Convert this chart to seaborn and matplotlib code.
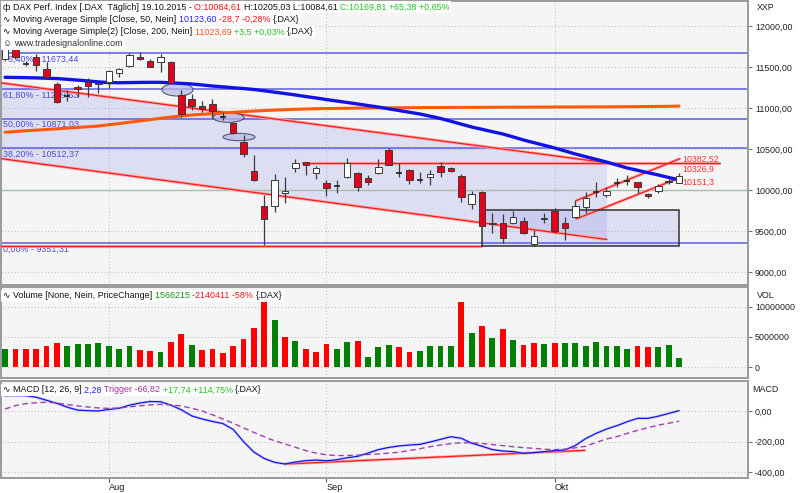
import numpy as np
import pandas as pd
import matplotlib
matplotlib.use("Agg")
import matplotlib.pyplot as plt
from matplotlib.patches import Polygon, Rectangle, Ellipse
from matplotlib.offsetbox import TextArea, HPacker, AnnotationBbox
from matplotlib.ticker import FuncFormatter, FixedLocator
import seaborn as sns

sns.set_style("white")
FONT = ["Liberation Sans", "DejaVu Sans"]
plt.rcParams["font.family"] = FONT

# ---- DAX daily candles, 20.07.2015 - 19.10.2015 ----
opens = [11600, 11768, 11540, 11626, 11475, 11293, 11145, 11252, 11320, 11288,
         11313, 11423, 11513, 11626, 11573, 11557, 11565, 11158, 11106, 11020,
         11045, 10894, 10821, 10589, 10235, 9805, 9805, 9960, 10265, 10338,
         10204, 10082, 10045, 10162, 10211, 10143, 10204, 10488, 10209, 10244,
         10130, 10162, 10293, 10272, 10175, 9829, 9980, 9585, 9594, 9594,
         9626, 9341, 9662, 9744, 9601, 9667, 9796, 9975, 9935, 10086,
         10110, 10101, 9947, 9991, 10113, 10084.61]
highs = [11745, 11790, 11577, 11660, 11565, 11317, 11219, 11280, 11365, 11325,
         11463, 11484, 11670, 11687, 11594, 11655, 11577, 11220, 11170, 11085,
         11110, 10950, 10833, 10670, 10427, 9939, 10190, 10162, 10374, 10345,
         10293, 10122, 10122, 10387, 10215, 10183, 10374, 10508, 10333, 10250,
         10223, 10244, 10338, 10280, 10191, 9991, 9985, 9716, 9707, 9748,
         9667, 9512, 9723, 9777, 9667, 9878, 9980, 10101, 10033, 10143,
         10183, 10101, 9960, 10073, 10130, 10205.03]
lows = [11580, 11600, 11512, 11455, 11370, 11057, 11085, 11130, 11130, 11180,
        11240, 11382, 11504, 11590, 11496, 11435, 11301, 10890, 10980, 10950,
        10880, 10850, 10683, 10399, 10110, 9329, 9735, 9845, 10223, 10183,
        10130, 9927, 9960, 10143, 9991, 10061, 10200, 10300, 10162, 10073,
        10082, 10061, 10162, 10225, 9857, 9768, 9555, 9479, 9350, 9590,
        9465, 9317, 9594, 9472, 9390, 9655, 9716, 9918, 9918, 10040,
        10061, 9960, 9899, 9960, 10073, 10084.61]
closes = [11720, 11618, 11538, 11524, 11374, 11069, 11150, 11228, 11268, 11308,
          11451, 11472, 11646, 11598, 11496, 11618, 11309, 10927, 11024, 10988,
          10963, 10890, 10691, 10435, 10122, 9643, 10122, 9992, 10326, 10301,
          10265, 10021, 10049, 10326, 10033, 10101, 10277, 10305, 10211, 10122,
          10125, 10191, 10223, 10232, 9918, 9951, 9565, 9601, 9411, 9675,
          9472, 9439, 9650, 9504, 9540, 9805, 9898, 9980, 9988, 10089,
          10113, 10040, 9927, 10049, 10097, 10169.81]

sma50 = [11374, 11372, 11370, 11367, 11363, 11359, 11350, 11340, 11330, 11318,
         11310, 11308, 11310, 11312, 11313, 11313, 11307, 11300, 11293, 11281,
         11268, 11258, 11247, 11237, 11226, 11210, 11193, 11176, 11159, 11140,
         11122, 11103, 11085, 11067, 11049, 11030, 11012, 10990, 10969, 10948,
         10927, 10900, 10872, 10838, 10803, 10768, 10740, 10711, 10683, 10647,
         10610, 10577, 10545, 10512, 10476, 10439, 10406, 10374, 10341, 10305,
         10268, 10240, 10211, 10183, 10152.3, 10123.60]
sma200 = [10704, 10713, 10722, 10730, 10738, 10746, 10754, 10762, 10771, 10780,
          10795, 10810, 10826, 10842, 10858, 10874, 10890, 10903, 10915, 10923,
          10931, 10940, 10948, 10955, 10963, 10969, 10974, 10979, 10984, 10988,
          10991, 10993, 10995, 10997, 10999, 11000, 11001, 11002, 11003, 11004,
          11005, 11006, 11006, 11007, 11007, 11008, 11008, 11009, 11009, 11010,
          11010, 11011, 11011, 11012, 11012, 11013, 11013, 11014, 11014, 11015,
          11016, 11017, 11018, 11019, 11020.19, 11023.69]

volume_m = [2.97, 2.97, 2.97, 3.07, 3.51, 4.06, 3.51, 3.79, 3.90, 4.06,
            3.51, 2.97, 3.51, 2.80, 2.69, 2.57, 4.17, 5.49, 3.63, 2.80,
            2.97, 2.41, 3.51, 4.72, 6.53, 10.83, 7.75, 5.05, 4.39, 2.97,
            2.57, 3.90, 2.97, 4.17, 4.28, 1.70, 3.35, 3.73, 3.30, 2.57,
            2.74, 3.57, 3.57, 3.57, 10.83, 5.61, 6.82, 4.89, 6.37, 4.50,
            3.68, 3.96, 3.85, 3.96, 3.96, 3.96, 3.46, 4.23, 3.46, 3.57,
            3.02, 3.46, 3.30, 3.30, 3.706626, 1.566215]

macd = [100, 101, 100, 90, 70, 50, 25, 6, 2, 0,
        10, 18, 38, 52, 62, 60, 38, 8, -32, -52,
        -68, -82, -120, -200, -268, -310, -335, -346, -333, -324,
        -320, -325, -318, -305, -296, -275, -252, -238, -228, -222,
        -218, -202, -185, -168, -178, -210, -230, -252, -261, -265,
        -276, -272, -265, -258, -254, -225, -180, -146, -118, -96,
        -70, -48, -48, -34, -16, 2.28]
trigger = [13, 35, 48, 54, 57, 52, 42, 33, 26, 20,
           17, 20, 27, 34, 40, 43, 40, 33, 18, 0,
           -25, -52, -80, -110, -140, -168, -195, -215, -237, -258,
           -275, -286, -291, -290, -288, -284, -280, -275, -269, -258,
           -246, -233, -222, -213, -207, -207, -212, -219, -226, -233,
           -239, -244, -249, -252, -249, -240, -230, -205, -183, -167,
           -146, -126, -109, -92, -80, -66.82]

month_pos = [10, 31, 53]
month_labels = ["Aug", "Sep", "Okt"]

fib_levels = [11673.44, 11229.63, 10871.03, 10512.37, 9351.31]
fib_labels = ["76,40% - 11673,44", "61,80% - 11229,63", "50,00% - 10871,03",
              "38,20% - 10512,37", "0,00% - 9351,31"]

# drawing objects (bar index, price)
down_channel_upper = [(-0.48, 11308), (58.05, 10332)]
down_channel_lower = [(-0.48, 10384), (58.05, 9396)]
up_channel_upper = [(55.06, 9869), (65.1, 10382.52)]
up_channel_lower = [(55.06, 9646), (65.1, 10151.3)]
resistance = [(28.6, 10326.9), (68.95, 10326.9)]
support = [(-0.48, 9317), (46.0, 9317)]
box = [(46.0, 9317), (65.0, 9756)]
ellipses = [(16.63, 11223, 2.99, 155), (21.55, 10884, 2.99, 118), (22.57, 10646, 3.09, 89)]
macd_trend = [(27.0, -346), (55.9, -257)]

n = len(closes)
idx = np.arange(n)

W, H = 800, 493
fig = plt.figure(figsize=(W / 100, H / 100), dpi=100, facecolor="white")
left, width = 1 / W, 747 / W
ax_p = fig.add_axes([left, 1 - 285 / H, width, 284 / H])
ax_v = fig.add_axes([left, 1 - 378 / H, width, 91 / H])
ax_m = fig.add_axes([left, 1 - 478 / H, width, 97 / H])

BG = "#f5f5f5"
GRID = "#c4c4c4"
for ax in (ax_p, ax_v, ax_m):
    ax.set_facecolor(BG)
    for s in ax.spines.values():
        s.set_color("#9a9a9a")
        s.set_linewidth(1.4)
    ax.set_xlim(-0.39, 71.65)
    ax.yaxis.tick_right()
    ax.tick_params(axis="y", which="both", right=True, left=False, length=3,
                   width=0.8, color="#707070", labelsize=6.4, pad=2,
                   labelcolor="#202020")
    for xm in month_pos:
        ax.axvline(xm, color=GRID, lw=0.8, ls=(0, (1, 2)), zorder=0.5)

# ---------------- price panel ----------------
ax_p.set_ylim(8841, 12305)
pticks = np.arange(9000, 12001, 500)
ax_p.yaxis.set_major_locator(FixedLocator(pticks))
ax_p.yaxis.set_major_formatter(FuncFormatter(lambda v, p: f"{v:.2f}".replace(".", ",")))
for t in pticks:
    ax_p.axhline(t, color=GRID, lw=0.8, ls=(0, (1, 2)), zorder=0.5)
ax_p.set_xticks([])

# descending channel area
poly = [down_channel_upper[0], down_channel_upper[1], down_channel_lower[1], down_channel_lower[0]]
ax_p.add_patch(Polygon(poly, closed=True, fc="#7878e6", alpha=0.18, ec="none", zorder=1))
# consolidation box
(bx0, by0), (bx1, by1) = box
ax_p.add_patch(Rectangle((bx0, by0), bx1 - bx0, by1 - by0, fc="#7878e6", alpha=0.18,
                         ec="none", zorder=1))
ax_p.add_patch(Rectangle((bx0, by0), bx1 - bx0, by1 - by0, fc="none", ec="#303030",
                         lw=1.1, zorder=3))

# 10000 reference line
ax_p.axhline(10000, color="#a9bfa9", lw=1.0, zorder=1.5)

# Fibonacci retracement levels
for lvl, lab in zip(fib_levels, fib_labels):
    ax_p.axhline(lvl, color="#5c5ce8", lw=1.3, alpha=0.85, zorder=1.6)
    ax_p.annotate(lab, xy=(0.003, lvl), xycoords=("axes fraction", "data"),
                  xytext=(0, -1.2), textcoords="offset points", ha="left", va="top",
                  fontsize=6.4, color="#4a4ad8", zorder=2)


def red_line(ax, pts, z=2.5):
    xs, ys = zip(*pts)
    ax.plot(xs, ys, color="#ffa8a8", lw=2.2, solid_capstyle="butt", zorder=z)
    ax.plot(xs, ys, color="#ff1a1a", lw=0.9, zorder=z + 0.05)


for line in (down_channel_upper, down_channel_lower, up_channel_upper,
             up_channel_lower, resistance, support):
    red_line(ax_p, line)

for cx, cy, ew, eh in ellipses:
    ax_p.add_patch(Ellipse((cx, cy), ew, eh, fc="#b9b9e6", alpha=0.75, ec="#2e2e48",
                           lw=0.8, zorder=3))

# moving averages
sns.lineplot(x=idx, y=sma200, ax=ax_p, color="#ff5a0a", linewidth=2.2, zorder=4)
sns.lineplot(x=idx, y=sma50, ax=ax_p, color="#1212e6", linewidth=2.4, zorder=4.2)

# candles
o = np.array(opens); c = np.array(closes); hi = np.array(highs); lo = np.array(lows)
ax_p.vlines(idx, lo, hi, color="#3a3a3a", lw=0.9, zorder=5)
body_w = 0.62
doji = np.abs(c - o) < 8
up = (c > o) & ~doji
dn = (c < o) & ~doji
ax_p.bar(idx[up], (c - o)[up], bottom=o[up], width=body_w, color="white",
         edgecolor="#3a3a3a", lw=0.7, zorder=6)
ax_p.bar(idx[dn], (o - c)[dn], bottom=c[dn], width=body_w, color="#e4001a",
         edgecolor="#3a3a3a", lw=0.7, zorder=6)
ax_p.hlines(((o + c) / 2)[doji], idx[doji] - body_w / 2, idx[doji] + body_w / 2,
            color="#202020", lw=1.2, zorder=6)

# channel end labels
for (xe, ye), txt, dy in [(up_channel_upper[1], "10382,52", -0.6),
                          (resistance[1], "10326,9", -4.4),
                          (up_channel_lower[1], "10151,3", -3.4)]:
    ax_p.annotate(txt, xy=(65.1, ye), xytext=(1.5, dy), textcoords="offset points",
                  ha="left", va="center", fontsize=6.3, color="#ff3030", zorder=7)
ax_p.set_ylabel("")

# ---------------- volume panel ----------------
vol_df = pd.DataFrame({
    "bar": idx,
    "volume": np.array(volume_m) * 1e6,
    "change": ["up"] + ["up" if closes[i] >= closes[i - 1] else "down" for i in range(1, n)],
})
sns.barplot(data=vol_df, x="bar", y="volume", hue="change", native_scale=True,
            palette={"up": "#008000", "down": "#ff0000"}, dodge=False, width=0.56,
            errorbar=None, legend=False, saturation=1, linewidth=0, ax=ax_v, zorder=3)
ax_v.set_xlim(-0.39, 71.65)
ax_v.set_ylim(-1.77e6, 13.25e6)
vticks = [0, 5000000, 10000000]
ax_v.yaxis.set_major_locator(FixedLocator(vticks))
ax_v.yaxis.set_major_formatter(FuncFormatter(lambda v, p: f"{int(round(v))}"))
for t in vticks:
    ax_v.axhline(t, color=GRID, lw=0.8, ls=(0, (1, 2)), zorder=0.5)
ax_v.set_xticks([])
ax_v.set_xlabel(""); ax_v.set_ylabel("")

# ---------------- MACD panel ----------------
ax_m.set_ylim(-437.2, 195.75)
mticks = [-400, -200, 0]
ax_m.yaxis.set_major_locator(FixedLocator(mticks))
ax_m.yaxis.set_major_formatter(FuncFormatter(lambda v, p: f"{v:.2f}".replace(".", ",")))
for t in mticks:
    ax_m.axhline(t, color=GRID, lw=0.8, ls=(0, (1, 2)), zorder=0.5)
xs, ys = zip(*macd_trend)
ax_m.plot(xs, ys, color="#ffa8a8", lw=2.0, zorder=2)
ax_m.plot(xs, ys, color="#ff1a1a", lw=0.9, zorder=2.1)
sns.lineplot(x=idx, y=macd, ax=ax_m, color="#b4b4ff", linewidth=2.0, alpha=0.55, zorder=3)
sns.lineplot(x=idx, y=macd, ax=ax_m, color="#1414f0", linewidth=0.9, zorder=3.1)
sns.lineplot(x=idx, y=trigger, ax=ax_m, color="#a040b0", linewidth=1.0,
             linestyle=(0, (4, 2.5)), zorder=3.2)
ax_m.set_xticks(month_pos)
ax_m.set_xticklabels(month_labels)
ax_m.tick_params(axis="x", bottom=True, length=3, width=0.8, color="#505050",
                 labelsize=6.6, pad=0.5, labelcolor="#202020", direction="out")
for lab in ax_m.get_xticklabels():
    lab.set_ha("left")
ax_m.set_xlabel(""); ax_m.set_ylabel("")


# ---------------- headers ----------------
def header(y_px, parts, x_px=3):
    areas = [TextArea(t, textprops=dict(color=col, size=6.4, family=FONT)) for t, col in parts]
    pack = HPacker(children=areas, align="baseline", pad=0, sep=0)
    ab = AnnotationBbox(pack, (x_px, H - y_px), xycoords="figure pixels",
                        box_alignment=(0, 0.5), frameon=True, pad=0.12,
                        bboxprops=dict(fc="white", ec="none"), zorder=20)
    fig.add_artist(ab)


BLK, RED, GRN, BLU = "#101010", "#ff1010", "#20c020", "#2020ff"
header(7, [("ф ", BLK), ("DAX Perf. Index [.DAX  Täglich] 19.10.2015 - ", BLK),
           ("O:10084,61 ", RED), ("H:10205,03 L:10084,61 ", BLK),
           ("C:10169,81 +65,38 +0,65%", GRN)])
header(19, [("∿ ", BLK), ("Moving Average Simple [Close, 50, Nein] ", BLK),
            ("10123,60 ", BLU), ("-28,7 -0,28% ", RED), ("{.DAX}", BLK)])
header(32, [("∿ ", BLK), ("Moving Average Simple(2) [Close, 200, Nein] ", BLK),
            ("11023,69 ", "#ff4a1a"), ("+3,5 +0,03% ", GRN), ("{.DAX}", BLK)])
header(44, [("☺ ", "#303030"), ("www.tradesignalonline.com", "#303030")])
header(296, [("∿ ", BLK), ("Volume [None, Nein, PriceChange] ", BLK),
             ("1566215 ", "#109010"), ("-2140411 -58% ", RED), ("{.DAX}", BLK)])
header(390, [("∿ ", BLK), ("MACD [12, 26, 9] ", BLK), ("2,28 ", BLU),
             ("Trigger -66,82 ", "#a030a0"), ("+17,74 +114,75% ", GRN), ("{.DAX}", BLK)])

for txt, xp, yp in [("XXP", 757, 8), ("VOL", 757, 296), ("MACD", 752, 389)]:
    fig.text(xp / W, 1 - yp / H, txt, fontsize=6.4, color="#202020", ha="left", va="center")

fig.savefig("out.png", dpi=100, facecolor="white")
